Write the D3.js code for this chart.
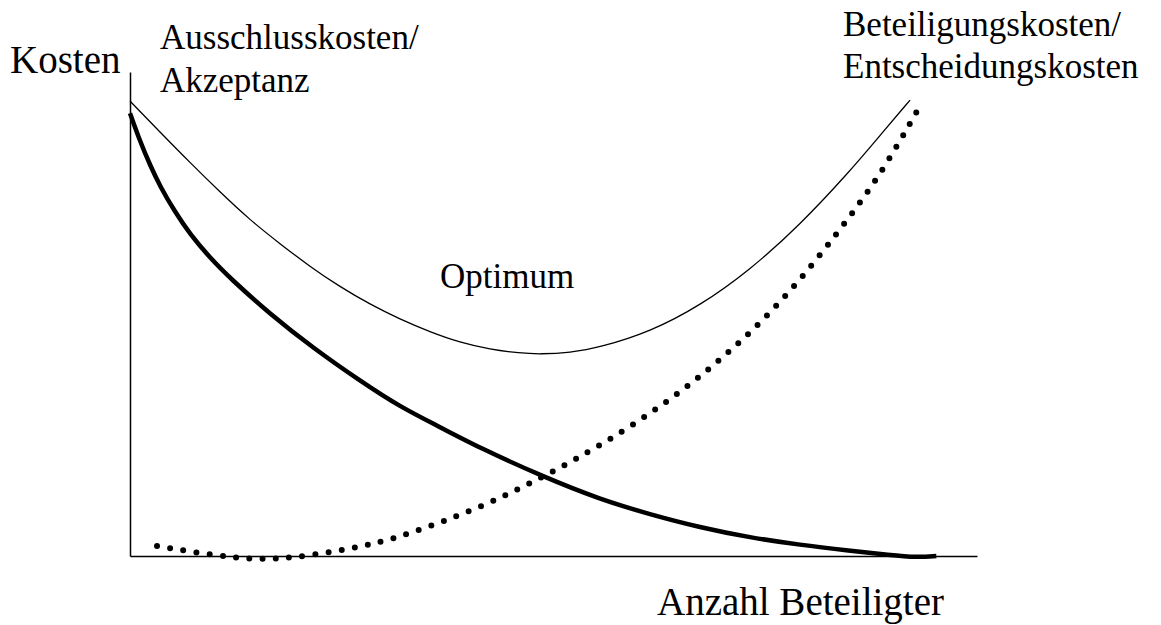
<!DOCTYPE html>
<html>
<head>
<meta charset="utf-8">
<script src="https://cdn.jsdelivr.net/npm/d3@7"></script>
<style>
  body { margin: 0; background: #fff; }
  text { font-family: "Liberation Serif", "Times New Roman", serif; fill: #000; }
</style>
</head>
<body>
<div id="chart"></div>
<script>
const gesamtX = [0, 3.54, 7.08, 10.63, 14.17, 17.71, 21.25, 24.79, 28.34, 31.88, 35.42, 38.96, 42.5, 46.04, 48.41, 51.95, 55.49, 61.39, 67.3, 73.2, 79.1, 85.0, 88.5, 92.1];
const gesamtY = [94.0, 87.6, 81.3, 75.2, 69.4, 64.5, 59.8, 55.6, 52.0, 48.9, 46.3, 44.1, 42.7, 41.9, 41.7, 42.0, 43.1, 46.3, 51.7, 59.1, 68.4, 79.5, 86.8, 94.2];

const ausschlussX = [0, 1.18, 2.36, 3.54, 5.31, 7.08, 9.45, 11.81, 16.53, 21.61, 27.15, 31.88, 36.6, 41.32, 48.76, 55.49, 61.39, 67.3, 73.2, 79.1, 85.0, 89.7, 92.9, 95.2];
const ausschlussY = [91.5, 85.7, 80.8, 76.4, 71.1, 66.5, 61.6, 57.4, 50.0, 43.0, 36.2, 30.8, 26.65, 22.3, 16.4, 11.7, 8.6, 5.9, 3.8, 2.3, 1.1, 0.2, -0.3, 0];

const beteiligungX = [3.19, 7.91, 12.63, 15.82, 18.89, 23.61, 28.34, 32.94, 41.32, 48.76, 55.84, 63.87, 71.19, 77.92, 83.82, 88.55, 93.27];
const beteiligungY = [2.07, 0.68, -0.41, -0.68, -0.41, 0.76, 2.27, 4.55, 9.92, 16.3, 23.1, 32.2, 42.6, 54.3, 67.4, 78.5, 93.0];

const width = 1161, height = 625;
const margin = {top: 72, right: 184, bottom: 69, left: 130};

const svg = d3.select('#chart')
  .append('svg')
  .attr('width', width)
  .attr('height', height);

const x = d3.scaleLinear().domain([0, 100]).range([margin.left, width - margin.right]);
const y = d3.scaleLinear().domain([0, 100]).range([height - margin.bottom, margin.top]);

const toPts = (xs, ys) => xs.map((v, i) => [v, ys[i]]);

const line = d3.line()
  .x(d => x(d[0]))
  .y(d => y(d[1]))
  .curve(d3.curveBasis);

// Achsen ohne Ticks
svg.append('g')
  .attr('transform', 'translate(0,' + y(0) + ')')
  .call(d3.axisBottom(x).ticks(0).tickSizeOuter(0))
  .select('.domain').attr('stroke-width', 1.5);

svg.append('g')
  .attr('transform', 'translate(' + x(0) + ',0)')
  .call(d3.axisLeft(y).ticks(0).tickSizeOuter(0))
  .select('.domain').attr('stroke-width', 1.5);

// Gesamtkosten (duenn)
svg.append('path')
  .datum(toPts(gesamtX, gesamtY))
  .attr('d', line)
  .attr('fill', 'none')
  .attr('stroke', '#000')
  .attr('stroke-width', 1.3);

// Ausschlusskosten (dick)
svg.append('path')
  .datum(toPts(ausschlussX, ausschlussY))
  .attr('d', line)
  .attr('fill', 'none')
  .attr('stroke', '#000')
  .attr('stroke-width', 4.5);

// Beteiligungskosten (gepunktet)
svg.append('path')
  .datum(toPts(beteiligungX, beteiligungY))
  .attr('d', line)
  .attr('fill', 'none')
  .attr('stroke', '#000')
  .attr('stroke-width', 6)
  .attr('stroke-linecap', 'round')
  .attr('stroke-dasharray', '0 13.3');

// Beschriftungen
svg.append('text').attr('x', 10).attr('y', 73).style('font-size', '39px').text('Kosten');

const left = svg.append('text').attr('x', 160).attr('y', 49).style('font-size', '35px');
left.append('tspan').attr('x', 160).text('Ausschlusskosten/');
left.append('tspan').attr('x', 160).attr('y', 92).text('Akzeptanz');

const right = svg.append('text').attr('x', 843).attr('y', 36).style('font-size', '35px');
right.append('tspan').attr('x', 843).text('Beteiligungskosten/');
right.append('tspan').attr('x', 843).attr('y', 78).text('Entscheidungskosten');

svg.append('text').attr('x', 440).attr('y', 288).style('font-size', '35px').text('Optimum');

svg.append('text').attr('x', 657).attr('y', 615).style('font-size', '39px').text('Anzahl Beteiligter');
</script>
</body>
</html>
